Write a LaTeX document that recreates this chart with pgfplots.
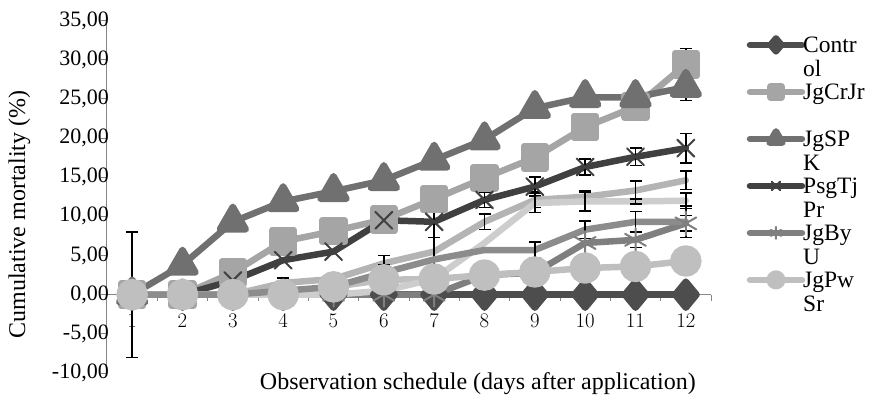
\documentclass[border=0pt]{standalone}
\usepackage{fontspec}
\setmainfont{Liberation Serif}
\usepackage{pgfplots}
\pgfplotsset{compat=1.18}
\definecolor{cCtrl}{HTML}{4D4D4D}
\definecolor{cCr}{HTML}{A5A5A5}
\definecolor{cSP}{HTML}{707070}
\definecolor{cPsg}{HTML}{404040}
\definecolor{cBy}{HTML}{7F7F7F}
\definecolor{cPw}{HTML}{BFBFBF}
\definecolor{cA}{HTML}{B4B4B4}
\definecolor{cB}{HTML}{CDCDCD}
\definecolor{cC}{HTML}{8C8C8C}
\definecolor{axisgray}{HTML}{868686}
\newcommand{\two}[2]{\vtop{\hbox{\kern-7pt\strut #1}\hbox{\kern-7pt\strut #2}}}
\begin{document}
\fontsize{24}{24}\selectfont
\begin{tikzpicture}
\begin{axis}[
  at={(0,0)}, anchor=south west,
  scale only axis, width=604pt, height=352.5pt,
  xmin=0.5, xmax=12.5, ymin=-10, ymax=35,
  axis x line=middle, axis y line=left,
  hide obscured x ticks=false,
  axis line style={-, draw=axisgray, line width=1pt},
  every tick/.style={draw=axisgray, line width=1pt},
  tick align=outside,
  xtick={1,...,12},
  major x tick style={draw=none},
  minor xtick={0.5,1.5,...,12.5},
  minor tick length=6pt, major tick length=6pt,
  ytick={-10,-5,...,35},
  yticklabels={{-10,00},{-5,00},{0,00},{5,00},{10,00},{15,00},{20,00},{25,00},{30,00},{35,00}},
  tick label style={font=\fontsize{22}{24}\selectfont, text=black},
  xticklabel style={yshift=-5pt},
  yticklabel style={inner sep=0pt, xshift=8pt},
  xlabel={Observation schedule (days after application)},
  ylabel={Cumulative mortality (\%)},
  label style={font=\fontsize{24}{26}\selectfont},
  xlabel style={at={(axis description cs:0.614,-0.03)}, anchor=center},
  ylabel style={at={(axis description cs:-0.145,0.45)}, anchor=center},
  every axis plot/.append style={line width=6.5pt, line cap=round, line join=round},
  error bars/error bar style={line width=1.5pt, draw=black, line cap=butt},
  error bars/error mark options={rotate=90, mark size=6pt, line width=1.5pt, draw=black},
  legend style={at={(axis description cs:1.0588,0.962)}, anchor=north west, draw=none, fill=none,
    inner sep=0pt, row sep=22.6pt, column sep=3pt,
    cells={anchor=base west, inner sep=0pt},
    font=\fontsize{23.5}{24}\selectfont},
  legend image code/.code={
    \draw[#1, every mark/.append style={scale=0.5}, mark repeat=2, mark phase=2]
      plot coordinates {(0pt,8pt) (26pt,8pt) (52pt,8pt)};
  },
  clip=false,
]
% Control
\addplot[color=cCtrl, mark=diamond*, mark size=13pt, mark options={fill=cCtrl, draw=cCtrl, xscale=1.1},
  error bars/.cd, y dir=both, y explicit] coordinates {
  (1,0) +- (0,8) (2,0) (3,0) (4,0) (5,0) (6,0) (7,0) (8,0) (9,0) (10,0) (11,0) (12,0)};
% JgCrJr
\addplot[color=cCr, mark=square*, mark size=11pt, mark options={fill=cCr, draw=cCr},
  error bars/.cd, y dir=both, y explicit] coordinates {
  (1,0) (2,0) (3,2.8) (4,6.8) (5,8.1) (6,9.6) (7,12.2) (8,14.9) (9,17.5) (10,21.4) (11,24.0) (12,29.4) +- (0,2)};
% JgSPK
\addplot[color=cSP, mark=triangle*, mark size=15pt, mark options={fill=cSP, draw=cSP},
  error bars/.cd, y dir=both, y explicit] coordinates {
  (1,0) (2,3.8) (3,9.3) +- (0,0.6) (4,11.9) +- (0,0.6) (5,13.2) +- (0,0.6) (6,14.6) +- (0,0.6)
  (7,17.2) +- (0,0.6) (8,19.8) +- (0,0.8) (9,23.8) +- (0,0.8) (10,25.2) +- (0,0.8) (11,25.2) +- (0,0.8) (12,26.5) +- (0,1.7)};
% PsgTjPr
\addplot[color=cPsg, mark=x, mark size=12pt, mark options={draw=cPsg, line width=2pt},
  error bars/.cd, y dir=both, y explicit] coordinates {
  (1,0) (2,0) (3,1.8) (4,4.4) (5,5.5) (6,9.5) (7,9.3) +- (0,2) (8,12.1) +- (0,1) (9,13.8) +- (0,1.2)
  (10,16.3) +- (0,1) (11,17.6) +- (0,1.1) (12,18.7) +- (0,1.9)};
% JgByU
\addplot[color=cBy, mark=asterisk, mark size=12pt, mark options={draw=cBy, line width=2pt},
  error bars/.cd, y dir=both, y explicit] coordinates {
  (1,0) (2,0) (3,0) (4,0) (5,0) (6,0) (7,0) (8,2.5) (9,2.8) (10,6.6) (11,7.0) +- (0,1) (12,9.1) +- (0,1)};
% JgPwSr
\addplot[color=cPw, mark=*, mark size=12.5pt, mark options={fill=cPw, draw=cPw},
  error bars/.cd, y dir=both, y explicit] coordinates {
  (1,0) (2,0) (3,0) (4,0) (5,1.0) (6,1.9) (7,2.0) (8,2.5) (9,2.9) (10,3.4) (11,3.6) (12,4.3)};
% further series (not shown in the legend)
\addplot[color=cA, no marks,
  error bars/.cd, y dir=both, y explicit] coordinates {
  (1,0) (2,0) (3,0) (4,1.5) +- (0,0.6) (5,2.0) (6,4.0) +- (0,1) (7,5.5) +- (0,1.8) (8,9.3) +- (0,1)
  (9,12.1) +- (0,1) (10,12.5) +- (0,0.8) (11,13.3) +- (0,1.2) (12,14.6) +- (0,1.2)};
\addplot[color=cB, no marks,
  error bars/.cd, y dir=both, y explicit] coordinates {
  (1,0) (2,0) (3,0) (4,0) (5,0) (6,0.5) (7,2.0) (8,6.6) (9,11.7) +- (0,1.2) (10,11.9) +- (0,1.2)
  (11,11.9) +- (0,0.3) (12,12.0) +- (0,1)};
\addplot[color=cC, no marks,
  error bars/.cd, y dir=both, y explicit] coordinates {
  (1,0) (2,0) (3,0) (4,0.5) (5,1.0) (6,2.8) +- (0,1) (7,4.5) (8,5.7) (9,5.7) +- (0,1) (10,8.3) +- (0,1.1)
  (11,9.3) +- (0,1.3) (12,9.3) +- (0,2)};
\legend{\two{Contr}{ol}, \two{JgCrJr}{}, \two{JgSP}{K}, \two{PsgTj}{Pr}, \two{JgBy}{U}, \two{JgPw}{Sr}}
\end{axis}
\pgfresetboundingbox
\path[use as bounding box] (-107pt,-32pt) rectangle (762pt,373pt);
\end{tikzpicture}
\end{document}
